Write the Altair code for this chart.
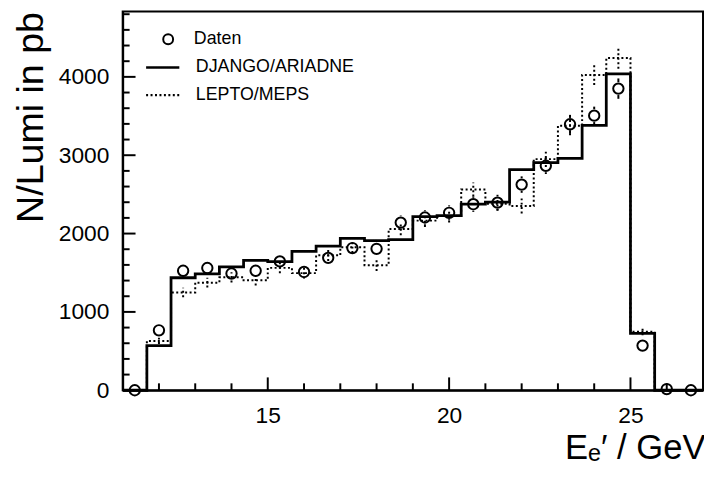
import altair as alt
import pandas as pd

F = "Liberation Sans"

# bin edges (GeV), 24 bins
edges = [11.0, 11.667, 12.333, 13.0, 13.667, 14.333, 15.0, 15.667, 16.333, 17.0,
         17.667, 18.333, 19.0, 19.667, 20.333, 21.0, 21.667, 22.333, 23.0, 23.667,
         24.333, 25.0, 25.667, 26.333, 27.0]

# data points (N/Lumi in pb) and errors
daten = [0, 765, 1525, 1560, 1490, 1525, 1645, 1510, 1690, 1815, 1805, 2140,
         2205, 2265, 2375, 2395, 2625, 2865, 3395, 3505, 3850, 570, 15, 0]
daten_err = [0, 50, 65, 65, 65, 65, 70, 70, 75, 78, 80, 90,
             92, 95, 98, 100, 105, 105, 120, 115, 130, 50, 30, 0]

# Monte Carlo histograms
django = [0, 570, 1436, 1486, 1574, 1659, 1642, 1772, 1839, 1940, 1911, 1923,
          2217, 2230, 2375, 2400, 2815, 2905, 2960, 3380, 4039, 727, 0, 0]
lepto = [0, 630, 1247, 1373, 1441, 1403, 1562, 1495, 1722, 1826, 1596, 2058,
         2165, 2225, 2562, 2380, 2351, 2950, 3375, 4025, 4240, 748, 0, 0]
lepto_err = [0, 40, 60, 62, 65, 65, 68, 70, 72, 75, 75, 80,
             82, 85, 90, 90, 95, 100, 120, 130, 135, 45, 0, 0]

series_names = ["DJANGO/ARIADNE", "LEPTO/MEPS"]
x_major = [15, 20, 25]
x_minor = [12, 13, 14, 16, 17, 18, 19, 21, 22, 23, 24, 26]
y_major = [0, 1000, 2000, 3000, 4000]
y_minor = [200, 400, 600, 800, 1200, 1400, 1600, 1800, 2200, 2400, 2600, 2800,
           3200, 3400, 3600, 3800, 4200, 4400, 4600, 4800]

W, H = 587, 383
X0, X1, Y0, Y1 = 11, 27, 0, 4833
R_PX = 6.5  # marker radius in pixels (error bars start outside the circle)
centers = [(edges[i] + edges[i + 1]) / 2 for i in range(len(daten))]

pts = pd.DataFrame({"E": centers, "N": daten, "kind": ["Daten"] * len(daten)})

r = R_PX * (Y1 - Y0) / H
seg = []
for e, v, s in zip(centers, daten, daten_err):
    if s > r:
        seg.append({"E": e, "lo": v + r, "hi": v + s})
        seg.append({"E": e, "lo": v - s, "hi": v - r})
segs = pd.DataFrame(seg)

lep = pd.DataFrame({
    "E": centers,
    "lo": [v - e for v, e in zip(lepto, lepto_err)],
    "hi": [v + e for v, e in zip(lepto, lepto_err)],
})


def hist_df(name, vals):
    rows = [{"E": edges[i], "N": v, "series": name} for i, v in enumerate(vals)]
    rows.append({"E": edges[-1], "N": vals[-1], "series": name})
    return pd.DataFrame(rows)


xs = alt.Scale(domain=[X0, X1], nice=False, zero=False)
ys = alt.Scale(domain=[Y0, Y1], nice=False, zero=False)

ax_x_lab = alt.Axis(values=x_major, ticks=False, tickSize=0, domain=True, domainColor="black",
                    domainWidth=2, grid=False, labelFont=F, labelFontSize=23, labelColor="black",
                    labelPadding=15, labelOverlap=False, format="d", zindex=1,
                    title="Eₑ′ / GeV", titleFont=F, titleFontSize=35, titleFontWeight="normal",
                    titleColor="black", titleX=W + 2, titleY=69, titleAlign="right",
                    titleBaseline="alphabetic")
ax_y_lab = alt.Axis(values=y_major, ticks=False, tickSize=0, domain=True, domainColor="black",
                    domainWidth=2, grid=False, labelFont=F, labelFontSize=23, labelColor="black",
                    labelPadding=14, labelOverlap=False, format="d", zindex=1,
                    title="N/Lumi in pb", titleFont=F, titleFontSize=38, titleFontWeight="normal",
                    titleColor="black", titleAnchor="end", titlePadding=8)

err = alt.Chart(segs).mark_rule(color="black", strokeWidth=2).encode(
    x=alt.X("E:Q", scale=xs, axis=ax_x_lab),
    y=alt.Y("lo:Q", scale=ys, axis=ax_y_lab),
    y2="hi:Q",
)


def xticks(vals, px):
    d = pd.DataFrame({"v": vals, "a": [Y0] * len(vals),
                      "b": [Y0 + px * (Y1 - Y0) / H] * len(vals)})
    return alt.Chart(d).mark_rule(color="#000000", strokeWidth=2).encode(
        x=alt.X("v:Q", scale=xs), y=alt.Y("a:Q", scale=ys), y2="b:Q")


def yticks(vals, px):
    d = pd.DataFrame({"v": vals, "a": [X0] * len(vals),
                      "b": [X0 + px * (X1 - X0) / W] * len(vals)})
    return alt.Chart(d).mark_rule(color="#000000", strokeWidth=2).encode(
        y=alt.Y("v:Q", scale=ys), x=alt.X("a:Q", scale=xs), x2="b:Q")


circles = alt.Chart(pts).mark_point(shape="circle", size=110, strokeWidth=2, color="black",
                                    opacity=1).encode(
    x=alt.X("E:Q", scale=xs),
    y=alt.Y("N:Q", scale=ys),
    shape=alt.Shape("kind:N", legend=alt.Legend(orient="none", legendX=37, legendY=19,
                                                title=None, labelFont=F, labelFontSize=18,
                                                labelColor="black", labelOffset=17,
                                                symbolStrokeWidth=2)),
)

dash_legend = alt.Legend(orient="none", legendX=25, legendY=41, title=None,
                         symbolType="M-1.2,0H1.2", symbolSize=784,
                         symbolStrokeWidth=2.4, symbolStrokeColor="black",
                         symbolFillColor="transparent",
                         labelFont=F, labelFontSize=18,
                         labelColor="black", labelOffset=18,
                         labelLimit=300, rowPadding=3)
dash_scale = alt.Scale(domain=series_names, range=[[1, 0], [2, 2.5]])


def hist_line(name, vals, width):
    return alt.Chart(hist_df(name, vals)).mark_line(
        interpolate="step-after", color="black", strokeWidth=width).encode(
        x=alt.X("E:Q", scale=xs),
        y=alt.Y("N:Q", scale=ys),
        strokeDash=alt.StrokeDash("series:N", scale=dash_scale, legend=dash_legend),
    )


lep_err = alt.Chart(lep).mark_rule(color="black", strokeWidth=2, strokeDash=[2, 2.5]).encode(
    x=alt.X("E:Q", scale=xs),
    y=alt.Y("lo:Q", scale=ys),
    y2="hi:Q",
)

chart = alt.layer(
    err, circles,
    hist_line(series_names[0], django, 2.8), hist_line(series_names[1], lepto, 2),
    lep_err,
    xticks(x_major, 13), xticks(x_minor, 7), yticks(y_major, 13), yticks(y_minor, 7),
).properties(
    width=W, height=H, autosize="none",
    padding={"left": 116, "top": 1, "right": 1, "bottom": 77},
    background="white",
).configure_view(stroke="black", strokeWidth=2)

chart.save("out.html", embed_options={"renderer": "svg", "actions": False})
